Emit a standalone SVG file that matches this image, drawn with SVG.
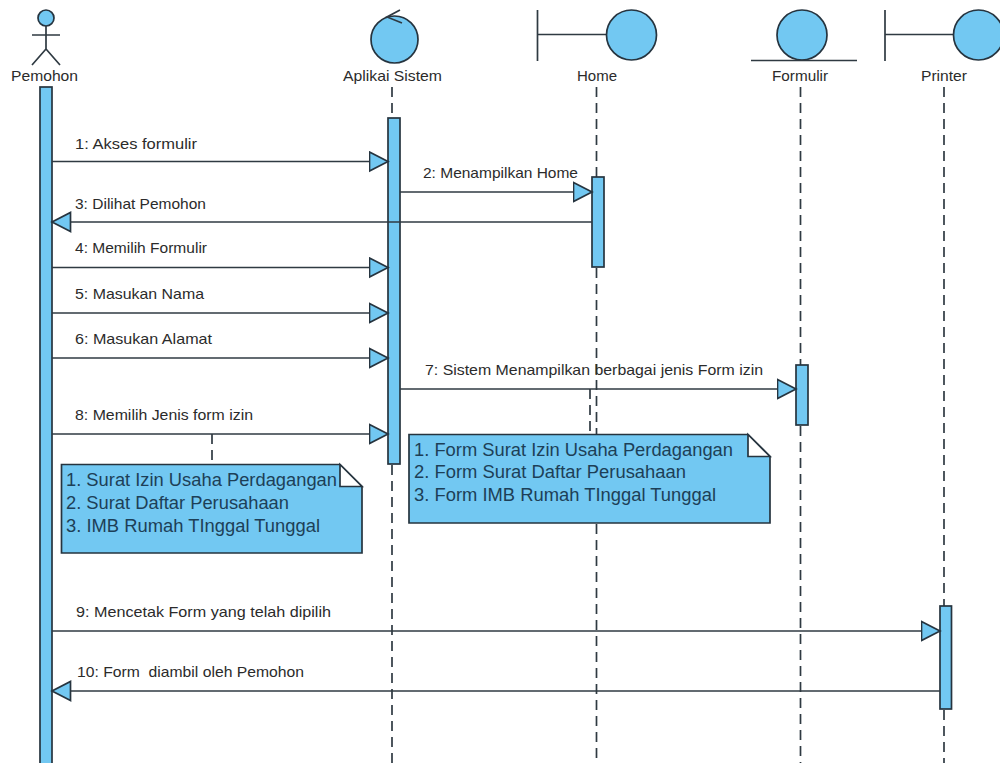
<svg xmlns="http://www.w3.org/2000/svg" width="1000" height="763" viewBox="0 0 1000 763">
<style>
text{font-family:"Liberation Sans",Arial,sans-serif;font-size:15px;fill:#2b2b2b}
.n{font-size:17.500px;fill:#1d3f57}
.s{fill:#72c8f2;stroke:#26343f;stroke-width:1.700}
.l{fill:none;stroke:#2f3a42;stroke-width:1.700}
.d{fill:none;stroke:#2f3a42;stroke-width:1.700;stroke-dasharray:10 6}
.m{stroke:#2f3a42;stroke-width:1.700;fill:none}
.c{fill:#fff;stroke:#26343f;stroke-width:1.700}
</style>
<defs>
<marker id="a" markerUnits="userSpaceOnUse" markerWidth="22" markerHeight="22" refX="19.500" refY="11" orient="auto"><path d="M1 1.500L19.500 11L1 20.500Z" fill="#72c8f2" stroke="#26343f" stroke-width="1.700"/></marker>
</defs>
<g id="lifelines">
<path class="d" d="M392 87V118M392 465V763"/>
<path class="d" d="M596.500 87V177M596.500 268V434M596.500 524V763"/>
<path class="d" d="M800.500 87V365M800.500 426V763"/>
<path class="d" d="M944 87V606M944 710V763"/>
</g>
<g id="pemohon">
<circle class="s" cx="46" cy="18" r="8"/>
<path class="l" d="M46 26V49M32 35H60M32 65L46 49L60 65"/>
<text x="11" y="81" textLength="67" lengthAdjust="spacingAndGlyphs">Pemohon</text>
<rect class="s" x="40" y="87" width="12" height="680"/>
</g>
<g id="aplikai-sistem">
<circle class="s" cx="394.500" cy="39.500" r="23.500"/>
<path class="l" d="M400 10L387 17L402 23"/>
<text x="343" y="81" textLength="99" lengthAdjust="spacingAndGlyphs">Aplikai Sistem</text>
<rect class="s" x="388" y="118" width="12" height="346"/>
</g>
<g id="home">
<path class="l" d="M537.500 10V61M537.500 34.500H607"/>
<circle class="s" cx="631.500" cy="35" r="25"/>
<text x="577" y="81" textLength="40" lengthAdjust="spacingAndGlyphs">Home</text>
<rect class="s" x="592" y="177" width="12" height="90"/>
</g>
<g id="formulir">
<circle class="s" cx="802" cy="35" r="25"/>
<path class="l" d="M751 60.500H857"/>
<text x="772" y="81" textLength="56" lengthAdjust="spacingAndGlyphs">Formulir</text>
<rect class="s" x="796" y="365" width="12" height="60"/>
</g>
<g id="printer">
<path class="l" d="M885 10V61M885 34.500H955"/>
<circle class="s" cx="978.500" cy="35" r="25"/>
<text x="921" y="81" textLength="46" lengthAdjust="spacingAndGlyphs">Printer</text>
<rect class="s" x="940" y="606" width="11.500" height="103"/>
</g>
<g id="connectors">
<path class="m" marker-end="url(#a)" d="M52 161.500H388"/>
<path class="m" marker-end="url(#a)" d="M400 192H592"/>
<path class="m" marker-end="url(#a)" d="M592 222H52"/>
<path class="m" marker-end="url(#a)" d="M52 267.500H388"/>
<path class="m" marker-end="url(#a)" d="M52 313H388"/>
<path class="m" marker-end="url(#a)" d="M52 358H388"/>
<path class="m" marker-end="url(#a)" d="M400 389H796"/>
<path class="m" marker-end="url(#a)" d="M52 434H388"/>
<path class="m" marker-end="url(#a)" d="M52 631H940"/>
<path class="m" marker-end="url(#a)" d="M940 691H52"/>
<path class="d" stroke-dasharray="9 5" d="M212 434V464"/>
<path class="d" stroke-dasharray="9 5" d="M590 389V434"/>
</g>
<g id="message-labels">
<text x="75" y="149" textLength="122" lengthAdjust="spacingAndGlyphs">1: Akses formulir</text>
<text x="423" y="178" textLength="155" lengthAdjust="spacingAndGlyphs">2: Menampilkan Home</text>
<text x="75" y="209" textLength="131" lengthAdjust="spacingAndGlyphs">3: Dilihat Pemohon</text>
<text x="75" y="253" textLength="132" lengthAdjust="spacingAndGlyphs">4: Memilih Formulir</text>
<text x="75" y="299" textLength="129" lengthAdjust="spacingAndGlyphs">5: Masukan Nama</text>
<text x="75" y="344" textLength="137" lengthAdjust="spacingAndGlyphs">6: Masukan Alamat</text>
<text x="425" y="375" textLength="338" lengthAdjust="spacingAndGlyphs">7: Sistem Menampilkan berbagai jenis Form izin</text>
<text x="75" y="420" textLength="178" lengthAdjust="spacingAndGlyphs">8: Memilih Jenis form izin</text>
<text x="76" y="617" textLength="255" lengthAdjust="spacingAndGlyphs">9: Mencetak Form yang telah dipilih</text>
<text x="77" y="677" textLength="227" lengthAdjust="spacingAndGlyphs" xml:space="preserve">10: Form  diambil oleh Pemohon</text>
</g>
<g id="note-1">
<path class="s" d="M61.500 464.500H340L362 486.500V553H61.500Z"/>
<path class="c" d="M340 464.500L362 486.500H340Z"/>
<text class="n" x="66" y="486" textLength="271" lengthAdjust="spacingAndGlyphs">1. Surat Izin Usaha Perdagangan</text>
<text class="n" x="66" y="509" textLength="223" lengthAdjust="spacingAndGlyphs">2. Surat Daftar Perusahaan</text>
<text class="n" x="66" y="532" textLength="254" lengthAdjust="spacingAndGlyphs">3. IMB Rumah TInggal Tunggal</text>
</g>
<g id="note-2">
<path class="s" d="M409 434.500H748L770 456.500V523H409Z"/>
<path class="c" d="M748 434.500L770 456.500H748Z"/>
<text class="n" x="414" y="456" textLength="319" lengthAdjust="spacingAndGlyphs">1. Form Surat Izin Usaha Perdagangan</text>
<text class="n" x="414" y="478" textLength="272" lengthAdjust="spacingAndGlyphs">2. Form Surat Daftar Perusahaan</text>
<text class="n" x="414" y="501" textLength="302" lengthAdjust="spacingAndGlyphs">3. Form IMB Rumah TInggal Tunggal</text>
</g>
</svg>
